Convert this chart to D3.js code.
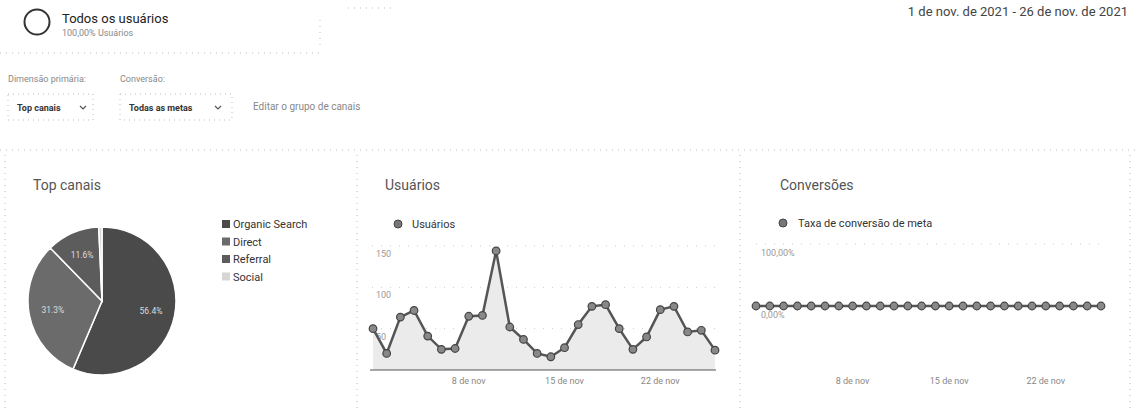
<!DOCTYPE html>
<html><head><meta charset="utf-8">
<script src="https://cdn.jsdelivr.net/npm/d3@7"></script>
<style>
body{margin:0;background:#fff;}
svg{font-family:Roboto,"Noto Sans",sans-serif;}
</style></head>
<body>
<svg id="c" width="1136" height="409"></svg>
<script>
const pieCategories = ["Organic Search","Direct","Referral","Social"];
const pieValues = [56.4, 31.3, 11.6, 0.7];
const pieLabels = ["56.4%","31.3%","11.6%",""];
const days = d3.range(1,27);
const users = [50,20,64,72,41,25,26,65,66,144,52,37,20,16,27,55,77,79,50,25,40,73,77,46,48,24];
const conversion = days.map(()=>0); // Taxa de conversão de meta: 0,00% each day
const userTicks = [50,100,150];
const convTicks = [0,1];
const dateTickDays = [8,15,22];

const svg = d3.select("#c");
const txt = "#444", light="#888";

// header
svg.append("circle").attr("cx",37).attr("cy",22).attr("r",12.5).attr("fill","none").attr("stroke","#333").attr("stroke-width",2);
svg.append("text").attr("x",62).attr("y",23).attr("font-size",13).attr("fill","#222").text("Todos os usuários");
svg.append("text").attr("x",62).attr("y",36).attr("font-size",9).attr("fill",light).text("100,00% Usuários");
svg.append("text").attr("x",1128).attr("y",16).attr("font-size",13).attr("fill",txt).attr("text-anchor","end").text("1 de nov. de 2021 - 26 de nov. de 2021");

const dot = (x1,y1,x2,y2)=>svg.append("line").attr("x1",x1).attr("y1",y1).attr("x2",x2).attr("y2",y2).attr("stroke","#bbb").attr("stroke-width",1).attr("stroke-dasharray","1,5");
dot(0,53,320,53); dot(348,8,392,8); dot(320,20,320,48);
dot(0,150,1136,150);
dot(5,155,5,409); dot(357,155,357,409); dot(740,155,740,409); dot(1130,155,1130,409);

svg.append("text").attr("x",8).attr("y",82).attr("font-size",9).attr("fill",light).text("Dimensão primária:");
svg.append("text").attr("x",120).attr("y",82).attr("font-size",9).attr("fill",light).text("Conversão:");
[[8,93,"Top canais",83],[120,232,"Todas as metas",218]].forEach(([x1,x2,t,cx])=>{
  svg.append("rect").attr("x",x1).attr("y",94).attr("width",x2-x1).attr("height",26).attr("fill","none").attr("stroke","#bbb").attr("stroke-dasharray","1,4");
  svg.append("text").attr("x",x1+9).attr("y",111).attr("font-size",9).attr("font-weight","bold").attr("fill","#333").text(t);
  svg.append("path").attr("d",`M${cx-3},${106}L${cx},${109}L${cx+3},${106}`).attr("fill","none").attr("stroke","#555").attr("stroke-width",1.2);
});
svg.append("text").attr("x",253).attr("y",110).attr("font-size",10).attr("fill",light).text("Editar o grupo de canais");

// titles
svg.append("text").attr("x",33).attr("y",190).attr("font-size",14).attr("fill","#555").text("Top canais");
svg.append("text").attr("x",385).attr("y",190).attr("font-size",14).attr("fill","#555").text("Usuários");
svg.append("text").attr("x",780).attr("y",190).attr("font-size",14).attr("fill","#555").text("Conversões");

// pie
const pieColors = d3.scaleOrdinal().domain(pieCategories).range(["#4a4a4a","#6b6b6b","#5c5c5c","#d6d6d6"]);
const arcs = d3.pie().sort(null)(pieValues);
const arc = d3.arc().innerRadius(0).outerRadius(74);
const labelArc = d3.arc().innerRadius(50).outerRadius(50);
const pg = svg.append("g").attr("transform","translate(102,301)");
pg.selectAll("path").data(arcs).join("path").attr("d",arc).attr("fill",(d,i)=>pieColors(pieCategories[i])).attr("stroke","#fff").attr("stroke-width",1.5);
pg.selectAll("text").data(arcs).join("text").attr("transform",d=>`translate(${labelArc.centroid(d)})`)
  .attr("text-anchor","middle").attr("dy","0.35em").attr("font-size",8.5).attr("fill","#ddd").text((d,i)=>pieLabels[i]);
const lg = svg.append("g");
pieCategories.forEach((c,i)=>{
  lg.append("rect").attr("x",222).attr("y",220+i*17.5).attr("width",8).attr("height",8).attr("fill",pieColors(c));
  lg.append("text").attr("x",233).attr("y",228+i*17.5).attr("font-size",11).attr("fill","#333").text(c);
});

// Usuários chart
const xU = d3.scaleLinear().domain([1,26]).range([373,715]);
const yU = d3.scaleLinear().domain([0,150]).range([370,246]);
const ug = svg.append("g");
svg.append("circle").attr("cx",398).attr("cy",224).attr("r",4).attr("fill","#777").attr("stroke","#444");
svg.append("text").attr("x",412).attr("y",228).attr("font-size",11).attr("fill","#333").text("Usuários");
userTicks.forEach(t=>{
  ug.append("line").attr("x1",372).attr("x2",715).attr("y1",yU(t)).attr("y2",yU(t)).attr("stroke","#ccc").attr("stroke-dasharray","1,8");
  ug.append("text").attr("x",376).attr("y",yU(t)+11).attr("font-size",9).attr("fill","#999").text(t);
});
ug.append("path").datum(users).attr("d",d3.area().x((d,i)=>xU(days[i])).y0(yU(0)).y1(d=>yU(d))).attr("fill","#ebebeb");
ug.append("line").attr("x1",370).attr("x2",716).attr("y1",yU(0)).attr("y2",yU(0)).attr("stroke","#555").attr("stroke-width",1.2);
ug.append("path").datum(users).attr("d",d3.line().x((d,i)=>xU(days[i])).y(d=>yU(d))).attr("fill","none").attr("stroke","#555").attr("stroke-width",2.5);
ug.selectAll("circle").data(users).join("circle").attr("cx",(d,i)=>xU(days[i])).attr("cy",d=>yU(d)).attr("r",3.8).attr("fill","#888").attr("stroke","#444").attr("stroke-width",1.2);
dateTickDays.forEach(d=>ug.append("text").attr("x",xU(d)).attr("y",384).attr("text-anchor","middle").attr("font-size",9).attr("fill","#888").text(d+" de nov"));

// Conversões chart
const xC = d3.scaleLinear().domain([1,26]).range([756,1101]);
const yC = d3.scaleLinear().domain([0,1]).range([306,244]);
const cg = svg.append("g");
svg.append("circle").attr("cx",783).attr("cy",223).attr("r",4).attr("fill","#777").attr("stroke","#444");
svg.append("text").attr("x",798).attr("y",227).attr("font-size",11).attr("fill","#333").text("Taxa de conversão de meta");
convTicks.forEach(t=>{
  cg.append("line").attr("x1",756).attr("x2",1101).attr("y1",yC(t)).attr("y2",yC(t)).attr("stroke","#ccc").attr("stroke-dasharray","1,8");
  cg.append("text").attr("x",761).attr("y",yC(t)+12).attr("font-size",9).attr("fill","#999").text(d3.format(".2%")(t).replace(".",","));
});
cg.append("path").datum(conversion).attr("d",d3.line().x((d,i)=>xC(days[i])).y(d=>yC(d))).attr("fill","none").attr("stroke","#555").attr("stroke-width",2.5);
cg.selectAll("circle").data(conversion).join("circle").attr("cx",(d,i)=>xC(days[i])).attr("cy",d=>yC(d)).attr("r",3.8).attr("fill","#888").attr("stroke","#444").attr("stroke-width",1.2);
dateTickDays.forEach(d=>cg.append("text").attr("x",xC(d)).attr("y",384).attr("text-anchor","middle").attr("font-size",9).attr("fill","#888").text(d+" de nov"));
</script>
</body></html>
